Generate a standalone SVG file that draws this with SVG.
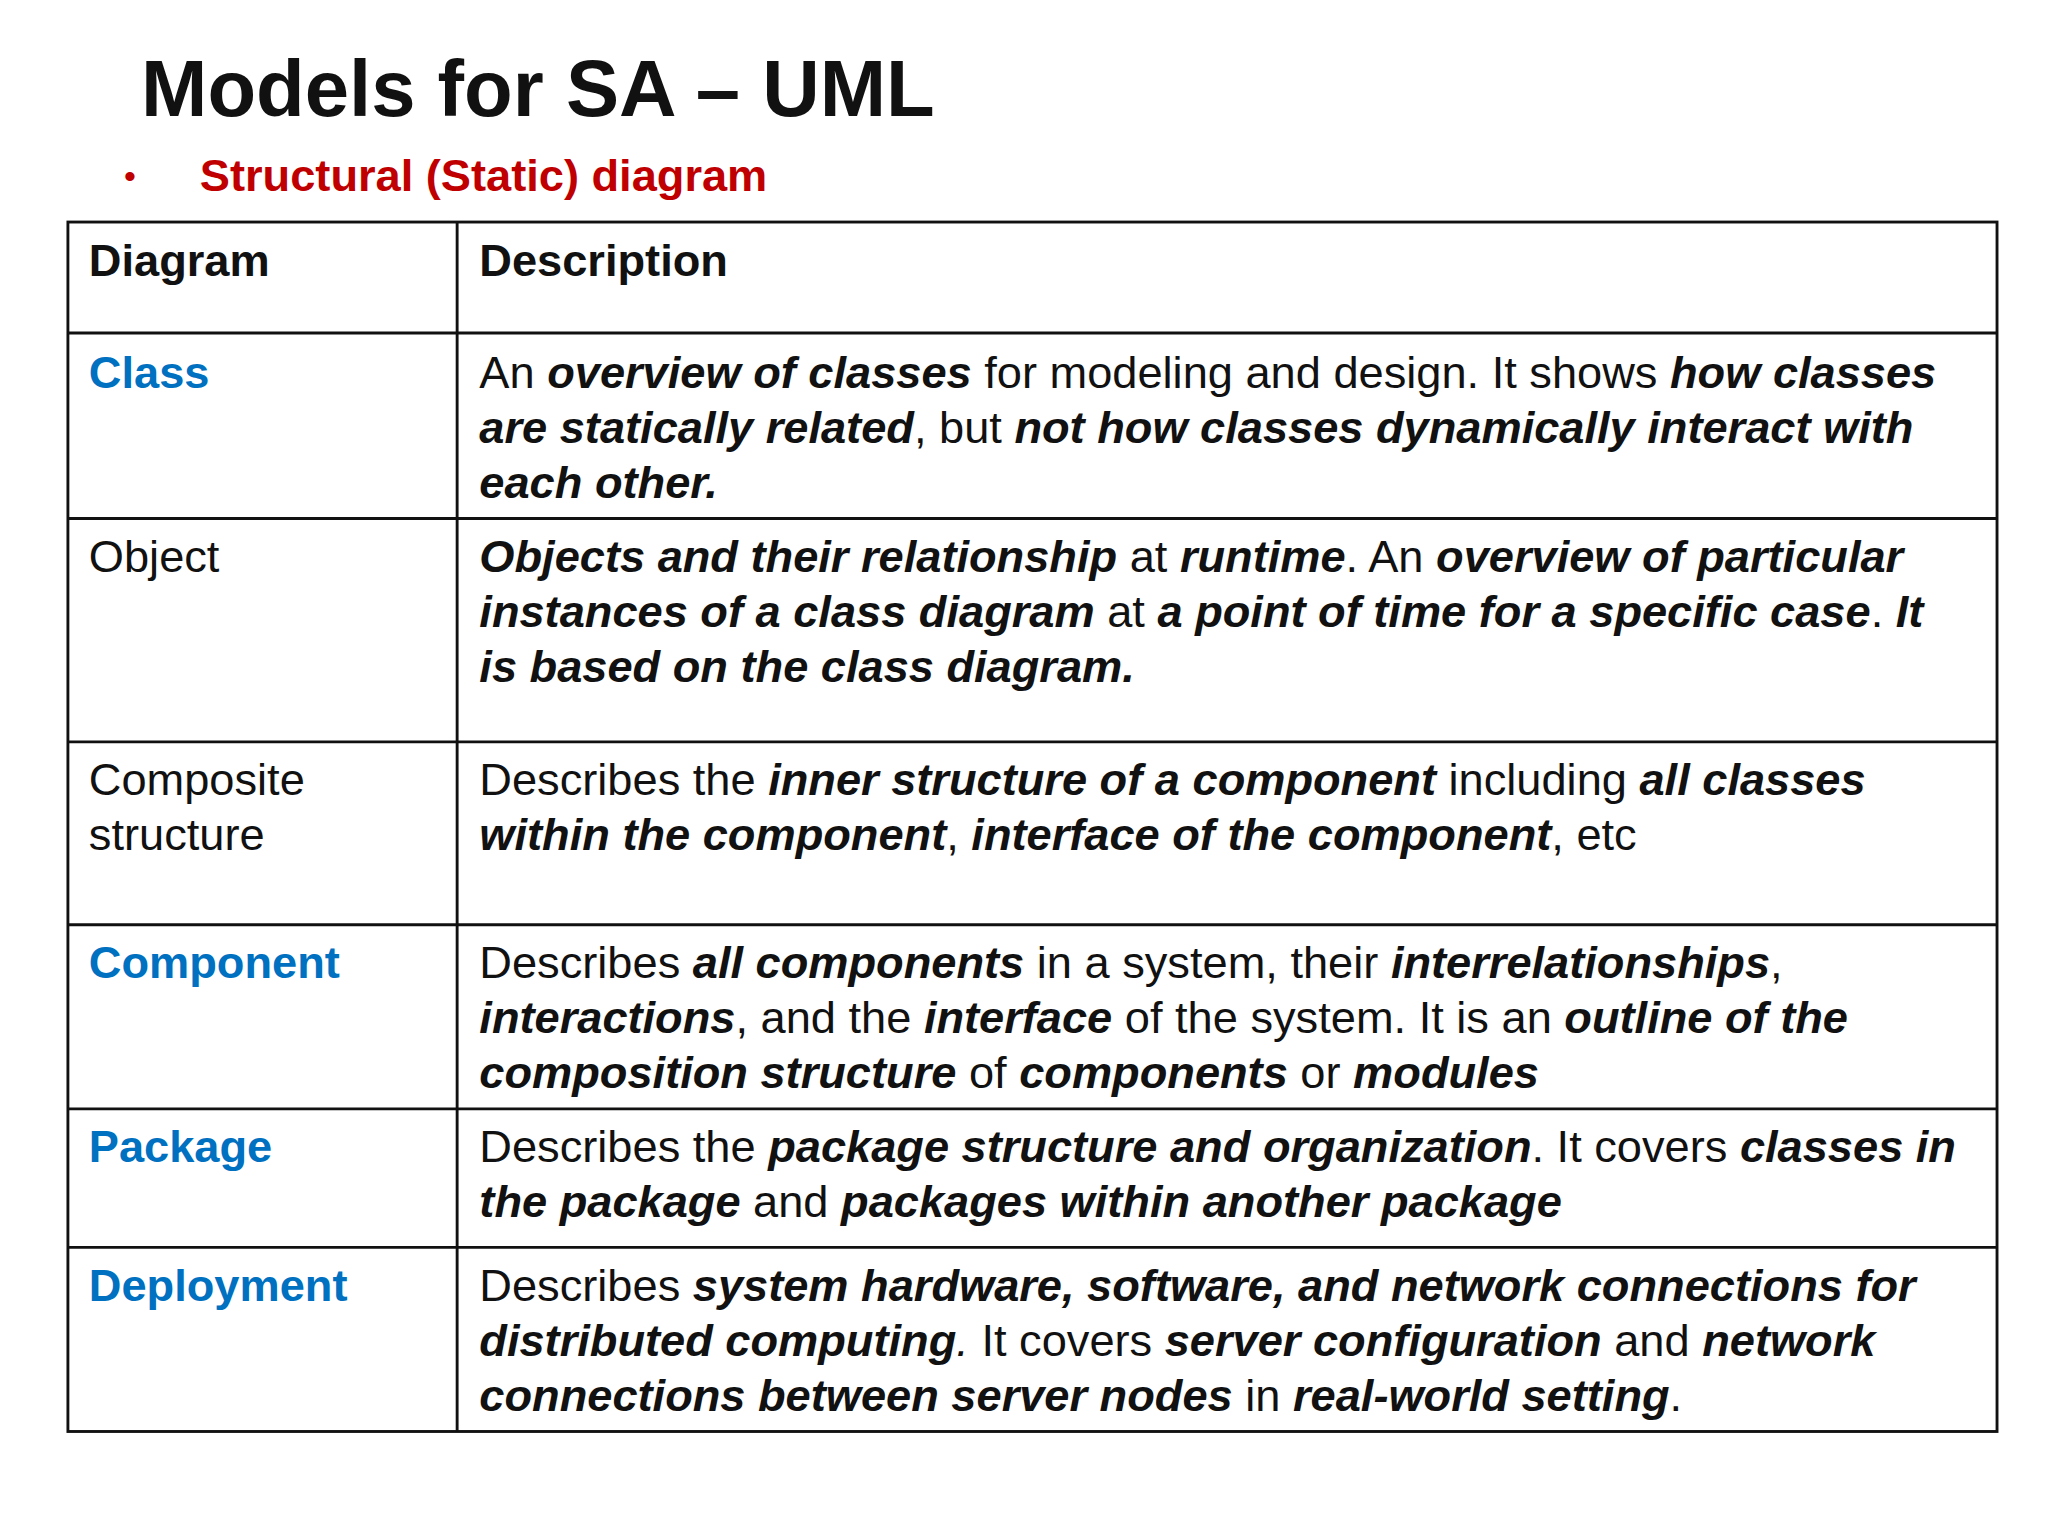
<svg xmlns="http://www.w3.org/2000/svg" width="2048" height="1536" viewBox="0 0 2048 1536">
<style>
text{font-family:"Liberation Sans",Arial,sans-serif;font-size:34.6px;fill:#111}
.b{font-weight:bold}
.bi{font-weight:bold;font-style:italic}
.blue{fill:#0070c0;font-weight:bold}
.grid{stroke:#111;stroke-width:2.2;fill:none}
</style>
<rect width="2048" height="1536" fill="#fff"/>
<g transform="scale(1.3061)">
<g id="title">
<text x="108" y="89" class="b" style="font-size:61px">Models for SA – UML</text>
<text x="95" y="144" style="fill:#c00000;font-size:26px">•</text>
<text x="153" y="146" class="b" style="fill:#c00000">Structural (Static) diagram</text>
</g>
<g id="table" class="grid">
<rect x="52" y="170" width="1477" height="926"/>
<line x1="350" y1="170" x2="350" y2="1096"/>
<line x1="52" y1="255" x2="1529" y2="255"/>
<line x1="52" y1="397" x2="1529" y2="397"/>
<line x1="52" y1="568" x2="1529" y2="568"/>
<line x1="52" y1="708" x2="1529" y2="708"/>
<line x1="52" y1="849" x2="1529" y2="849"/>
<line x1="52" y1="955" x2="1529" y2="955"/>
</g>
<g id="header"><text x="68" y="211" class="b">Diagram</text><text x="367" y="211" class="b">Description</text></g>
<g id="class">
<text x="68" y="297" class="blue">Class</text>
<text x="367" y="297">An <tspan class="bi">overview of classes</tspan> for modeling and design. It shows <tspan class="bi">how classes</tspan></text>
<text x="367" y="339"><tspan class="bi">are statically related</tspan>, but <tspan class="bi">not how classes dynamically interact with</tspan></text>
<text x="367" y="381" class="bi">each other.</text>
</g>
<g id="object">
<text x="68" y="438">Object</text>
<text x="367" y="438"><tspan class="bi">Objects and their relationship</tspan> at <tspan class="bi">runtime</tspan>. An <tspan class="bi">overview of particular</tspan></text>
<text x="367" y="480"><tspan class="bi">instances of a class diagram</tspan> at <tspan class="bi">a point of time for a specific case</tspan>. <tspan class="bi">It</tspan></text>
<text x="367" y="522" class="bi">is based on the class diagram.</text>
</g>
<g id="composite">
<text x="68" y="609">Composite</text>
<text x="68" y="651">structure</text>
<text x="367" y="609">Describes the <tspan class="bi">inner structure of a component</tspan> including <tspan class="bi">all classes</tspan></text>
<text x="367" y="651"><tspan class="bi">within the component</tspan>, <tspan class="bi">interface of the component</tspan>, etc</text>
</g>
<g id="component">
<text x="68" y="749" class="blue">Component</text>
<text x="367" y="749">Describes <tspan class="bi">all components</tspan> in a system, their <tspan class="bi">interrelationships</tspan>,</text>
<text x="367" y="791"><tspan class="bi">interactions</tspan>, and the <tspan class="bi">interface</tspan> of the system. It is an <tspan class="bi">outline of the</tspan></text>
<text x="367" y="833"><tspan class="bi">composition structure</tspan> of <tspan class="bi">components</tspan> or <tspan class="bi">modules</tspan></text>
</g>
<g id="package">
<text x="68" y="890" class="blue">Package</text>
<text x="367" y="890">Describes the <tspan class="bi">package structure and organization</tspan>. It covers <tspan class="bi">classes in</tspan></text>
<text x="367" y="932"><tspan class="bi">the package</tspan> and <tspan class="bi">packages within another package</tspan></text>
</g>
<g id="deployment">
<text x="68" y="996" class="blue">Deployment</text>
<text x="367" y="996">Describes <tspan class="bi">system hardware, software, and network connections for</tspan></text>
<text x="367" y="1038"><tspan class="bi">distributed computing</tspan><tspan style="font-style:italic">.</tspan> It covers <tspan class="bi">server configuration</tspan> and <tspan class="bi">network</tspan></text>
<text x="367" y="1080"><tspan class="bi">connections between server nodes</tspan> in <tspan class="bi">real-world setting</tspan>.</text>
</g>
</g>
</svg>
